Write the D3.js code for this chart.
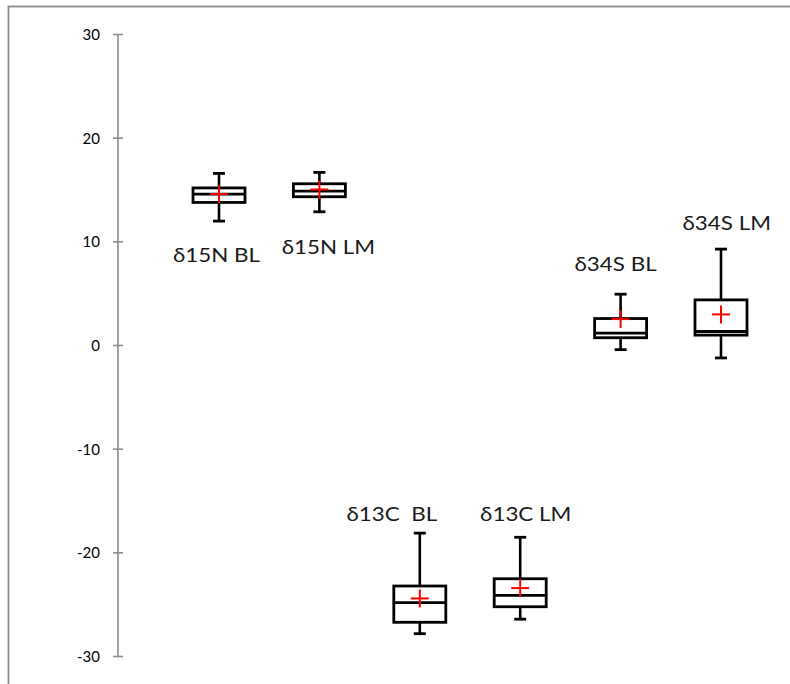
<!DOCTYPE html>
<html>
<head>
<meta charset="utf-8">
<script src="https://cdn.jsdelivr.net/npm/d3@7"></script>
<style>
  html, body { margin: 0; padding: 0; background: #fff; }
  svg { display: block; }
</style>
</head>
<body>
<svg id="chart" width="790" height="684"></svg>
<script>
// ---- data ----
const categories  = ["δ15N BL", "δ15N LM", "δ13C  BL", "δ13C LM", "δ34S BL", "δ34S LM"];
const whiskerMin  = [12.0, 12.9, -27.8, -26.4, -0.4, -1.2];
const q1          = [13.8, 14.35, -26.7, -25.2, 0.75, 1.0];
const median      = [14.6, 14.9, -24.8, -24.1, 1.2, 1.35];
const q3          = [15.2, 15.6, -23.2, -22.5, 2.6, 4.4];
const whiskerMax  = [16.6, 16.7, -18.1, -18.5, 4.95, 9.3];
const meanValue   = [14.6, 15.05, -24.4, -23.4, 2.55, 3.0];
const labelValue  = [8.1, 8.87, -16.93, -16.93, 7.19, 11.14];   // label anchor (y units)
const yTicks      = [-30, -20, -10, 0, 10, 20, 30];

// ---- layout ----
const labelDx = [-2.5, 9, -28, 5.5, -5, 5.7];   // label offset from box centre (px)
const svg = d3.select("#chart");

const y = d3.scaleLinear().domain([-30, 30]).range([656.5, 34.5]);
const x = d3.scaleBand().domain(categories).range([168.8, 771.2]).padding(0);
const cx = c => x(c) + x.bandwidth() / 2;
const boxW = 52, capW = 12, crossR = 9;

// outer frame (right and bottom edges fall outside the picture)
svg.append("rect")
  .attr("x", 8.5).attr("y", 6.5).attr("width", 790).attr("height", 700)
  .attr("fill", "none").attr("stroke", "#898989").attr("stroke-width", 1.8);

// y axis
const axisX = 118;
const axis = svg.append("g").attr("transform", `translate(${axisX},0)`);
axis.append("line")
  .attr("y1", y(30)).attr("y2", y(-30))
  .attr("stroke", "#8c8c8c").attr("stroke-width", 1.6);
axis.selectAll("line.tick").data(yTicks).join("line")
  .attr("class", "tick")
  .attr("x1", -5).attr("x2", 5)
  .attr("y1", d => y(d)).attr("y2", d => y(d))
  .attr("stroke", "#8c8c8c").attr("stroke-width", 1.6);
axis.selectAll("text").data(yTicks).join("text")
  .attr("x", -18).attr("y", d => y(d) + 5.4)
  .attr("text-anchor", "end")
  .attr("font-family", "Lato, 'Open Sans', sans-serif")
  .attr("font-size", 15)
  .attr("fill", "#000")
  .text(d => d);

// boxes
const idx = d3.range(categories.length);
const g = svg.append("g");

// whiskers
g.selectAll("line.wTop").data(idx).join("line")
  .attr("x1", i => cx(categories[i])).attr("x2", i => cx(categories[i]))
  .attr("y1", i => y(whiskerMax[i])).attr("y2", i => y(q3[i]))
  .attr("stroke", "#000").attr("stroke-width", 2.6);
g.selectAll("line.wBot").data(idx).join("line")
  .attr("x1", i => cx(categories[i])).attr("x2", i => cx(categories[i]))
  .attr("y1", i => y(q1[i])).attr("y2", i => y(whiskerMin[i]))
  .attr("stroke", "#000").attr("stroke-width", 2.6);
// caps
g.selectAll("line.capTop").data(idx).join("line")
  .attr("x1", i => cx(categories[i]) - capW / 2).attr("x2", i => cx(categories[i]) + capW / 2)
  .attr("y1", i => y(whiskerMax[i])).attr("y2", i => y(whiskerMax[i]))
  .attr("stroke", "#000").attr("stroke-width", 2.8);
g.selectAll("line.capBot").data(idx).join("line")
  .attr("x1", i => cx(categories[i]) - capW / 2).attr("x2", i => cx(categories[i]) + capW / 2)
  .attr("y1", i => y(whiskerMin[i])).attr("y2", i => y(whiskerMin[i]))
  .attr("stroke", "#000").attr("stroke-width", 2.8);
// box
g.selectAll("rect.box").data(idx).join("rect")
  .attr("x", i => cx(categories[i]) - boxW / 2)
  .attr("y", i => y(q3[i]))
  .attr("width", boxW)
  .attr("height", i => y(q1[i]) - y(q3[i]))
  .attr("fill", "#fff").attr("stroke", "#000").attr("stroke-width", 2.8);
// median
g.selectAll("line.med").data(idx).join("line")
  .attr("x1", i => cx(categories[i]) - boxW / 2).attr("x2", i => cx(categories[i]) + boxW / 2)
  .attr("y1", i => y(median[i])).attr("y2", i => y(median[i]))
  .attr("stroke", "#000").attr("stroke-width", 2.8);
// mean cross
g.selectAll("line.meanH").data(idx).join("line")
  .attr("x1", i => cx(categories[i]) - crossR).attr("x2", i => cx(categories[i]) + crossR)
  .attr("y1", i => y(meanValue[i])).attr("y2", i => y(meanValue[i]))
  .attr("stroke", "#ff0000").attr("stroke-width", 2);
g.selectAll("line.meanV").data(idx).join("line")
  .attr("x1", i => cx(categories[i])).attr("x2", i => cx(categories[i]))
  .attr("y1", i => y(meanValue[i]) - crossR).attr("y2", i => y(meanValue[i]) + crossR)
  .attr("stroke", "#ff0000").attr("stroke-width", 2);

// labels
svg.append("g").selectAll("text").data(idx).join("text")
  .attr("transform", i => `translate(${cx(categories[i]) + labelDx[i]},${y(labelValue[i])}) scale(1.12,1)`)
  .attr("text-anchor", "middle")
  .attr("font-family", "Lato, 'Open Sans', sans-serif")
  .attr("font-size", 20)
  .attr("fill", "#1a1a1a")
  .style("white-space", "pre")
  .text(i => categories[i]);
</script>
</body>
</html>
